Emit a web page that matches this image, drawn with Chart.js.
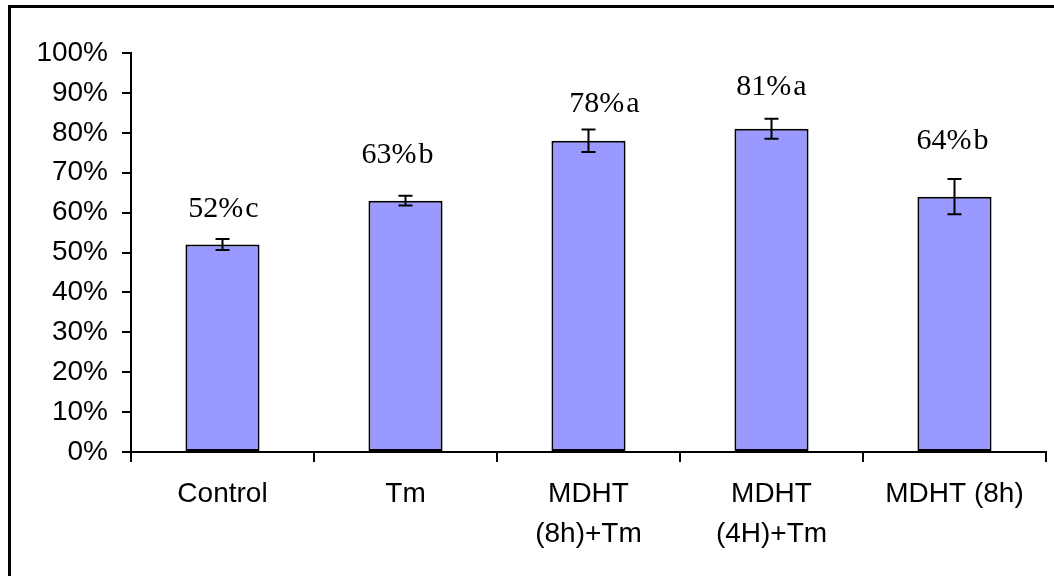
<!DOCTYPE html>
<html>
<head>
<meta charset="utf-8">
<script src="https://cdn.jsdelivr.net/npm/chart.js@4.4.1/dist/chart.umd.min.js"></script>
<style>
  html, body { margin: 0; padding: 0; background: #fff; overflow: hidden; }
  #wrap { position: relative; width: 1054px; height: 576px; }
  #frame { position: absolute; left: 8px; top: 5px; width: 2000px; height: 2000px;
           border-left: 3px solid #000; border-top: 3px solid #000; }
  #chart { position: absolute; left: 0; top: 0; }
</style>
</head>
<body>
<div id="wrap">
  <div id="frame"></div>
  <canvas id="chart" width="1054" height="576"></canvas>
</div>
<script>
// Treatments and their mean percentages, standard errors and significance letters
const categories = ['Control', 'Tm', ['MDHT', '(8h)+Tm'], ['MDHT', '(4H)+Tm'], 'MDHT (8h)'];
const percentValues = [52, 63, 78, 81, 64];
const errorValues = [1.4, 1.2, 2.8, 2.5, 4.4];
const groupLetters = ['c', 'b', 'a', 'a', 'b'];

// Error bars plus "value% letter" annotations above each bar
const errorAndLabels = {
  id: 'errorAndLabels',
  afterDatasetsDraw(chart, args, opts) {
    const ctx = chart.ctx;
    const y = chart.scales.y;
    const meta = chart.getDatasetMeta(0);
    meta.data.forEach((bar, i) => {
      const x = bar.x;
      const v = percentValues[i];
      const e = errorValues[i];
      const yTop = y.getPixelForValue(v + e);
      const yBot = y.getPixelForValue(v - e);
      ctx.save();
      ctx.strokeStyle = '#000';
      ctx.lineWidth = 2;
      ctx.beginPath();
      ctx.moveTo(x, yTop); ctx.lineTo(x, yBot);
      ctx.moveTo(x - opts.capHalf, yTop); ctx.lineTo(x + opts.capHalf, yTop);
      ctx.moveTo(x - opts.capHalf, yBot); ctx.lineTo(x + opts.capHalf, yBot);
      ctx.stroke();

      ctx.font = '30px "Liberation Serif", "Times New Roman", serif';
      ctx.fillStyle = '#000';
      ctx.textAlign = 'left';
      ctx.textBaseline = 'alphabetic';
      const main = Math.round(v) + '%';
      const letter = groupLetters[i];
      const gap = 2;
      const w1 = ctx.measureText(main).width;
      const w2 = ctx.measureText(letter).width;
      const nudge = opts.nudges[i];
      const start = x - (w1 + gap + w2) / 2 + nudge[0];
      const baseY = yTop - opts.gapAbove + nudge[1];
      ctx.fillText(main, start, baseY);
      ctx.fillText(letter, start + w1 + gap, baseY);
      ctx.restore();
    });
  }
};

new Chart(document.getElementById('chart'), {
  type: 'bar',
  data: {
    labels: categories,
    datasets: [{
      data: percentValues,
      backgroundColor: '#9999FF',
      borderColor: '#000',
      borderWidth: 2,
      borderSkipped: false,
      categoryPercentage: 1,
      barPercentage: 0.405
    }]
  },
  options: {
    responsive: false,
    devicePixelRatio: 1,
    animation: false,
    layout: { padding: { left: 0, top: 53, right: 8, bottom: 0 } },
    plugins: {
      legend: { display: false },
      tooltip: { enabled: false },
      errorAndLabels: {
        capHalf: 7,
        gapAbove: 25,
        // hand-placed label nudges [dx, dy] in pixels
        nudges: [[1, 3], [-8, -8], [16, 7], [0, 1], [-2, -5]]
      }
    },
    scales: {
      x: {
        offset: true,
        grid: { display: true, offset: true, drawOnChartArea: false, drawTicks: true,
                tickLength: 10, color: '#000', lineWidth: 2 },
        border: { display: true, color: '#000', width: 2 },
        ticks: { color: '#000', padding: 13, maxRotation: 0, autoSkip: false,
                 font: { family: '"Liberation Sans", Arial, sans-serif', size: 28, lineHeight: 1.4 } },
        afterFit(scale) { scale.height = 124; }
      },
      y: {
        min: 0, max: 100,
        grid: { display: true, drawOnChartArea: false, drawTicks: true,
                tickLength: 9, color: '#000', lineWidth: 2 },
        border: { display: true, color: '#000', width: 2 },
        ticks: { stepSize: 10, color: '#000', padding: 14,
                 font: { family: '"Liberation Sans", Arial, sans-serif', size: 28 },
                 callback: (v) => v + '%' },
        afterFit(scale) { scale.width = 131; }
      }
    }
  },
  plugins: [errorAndLabels]
});
</script>
</body>
</html>
